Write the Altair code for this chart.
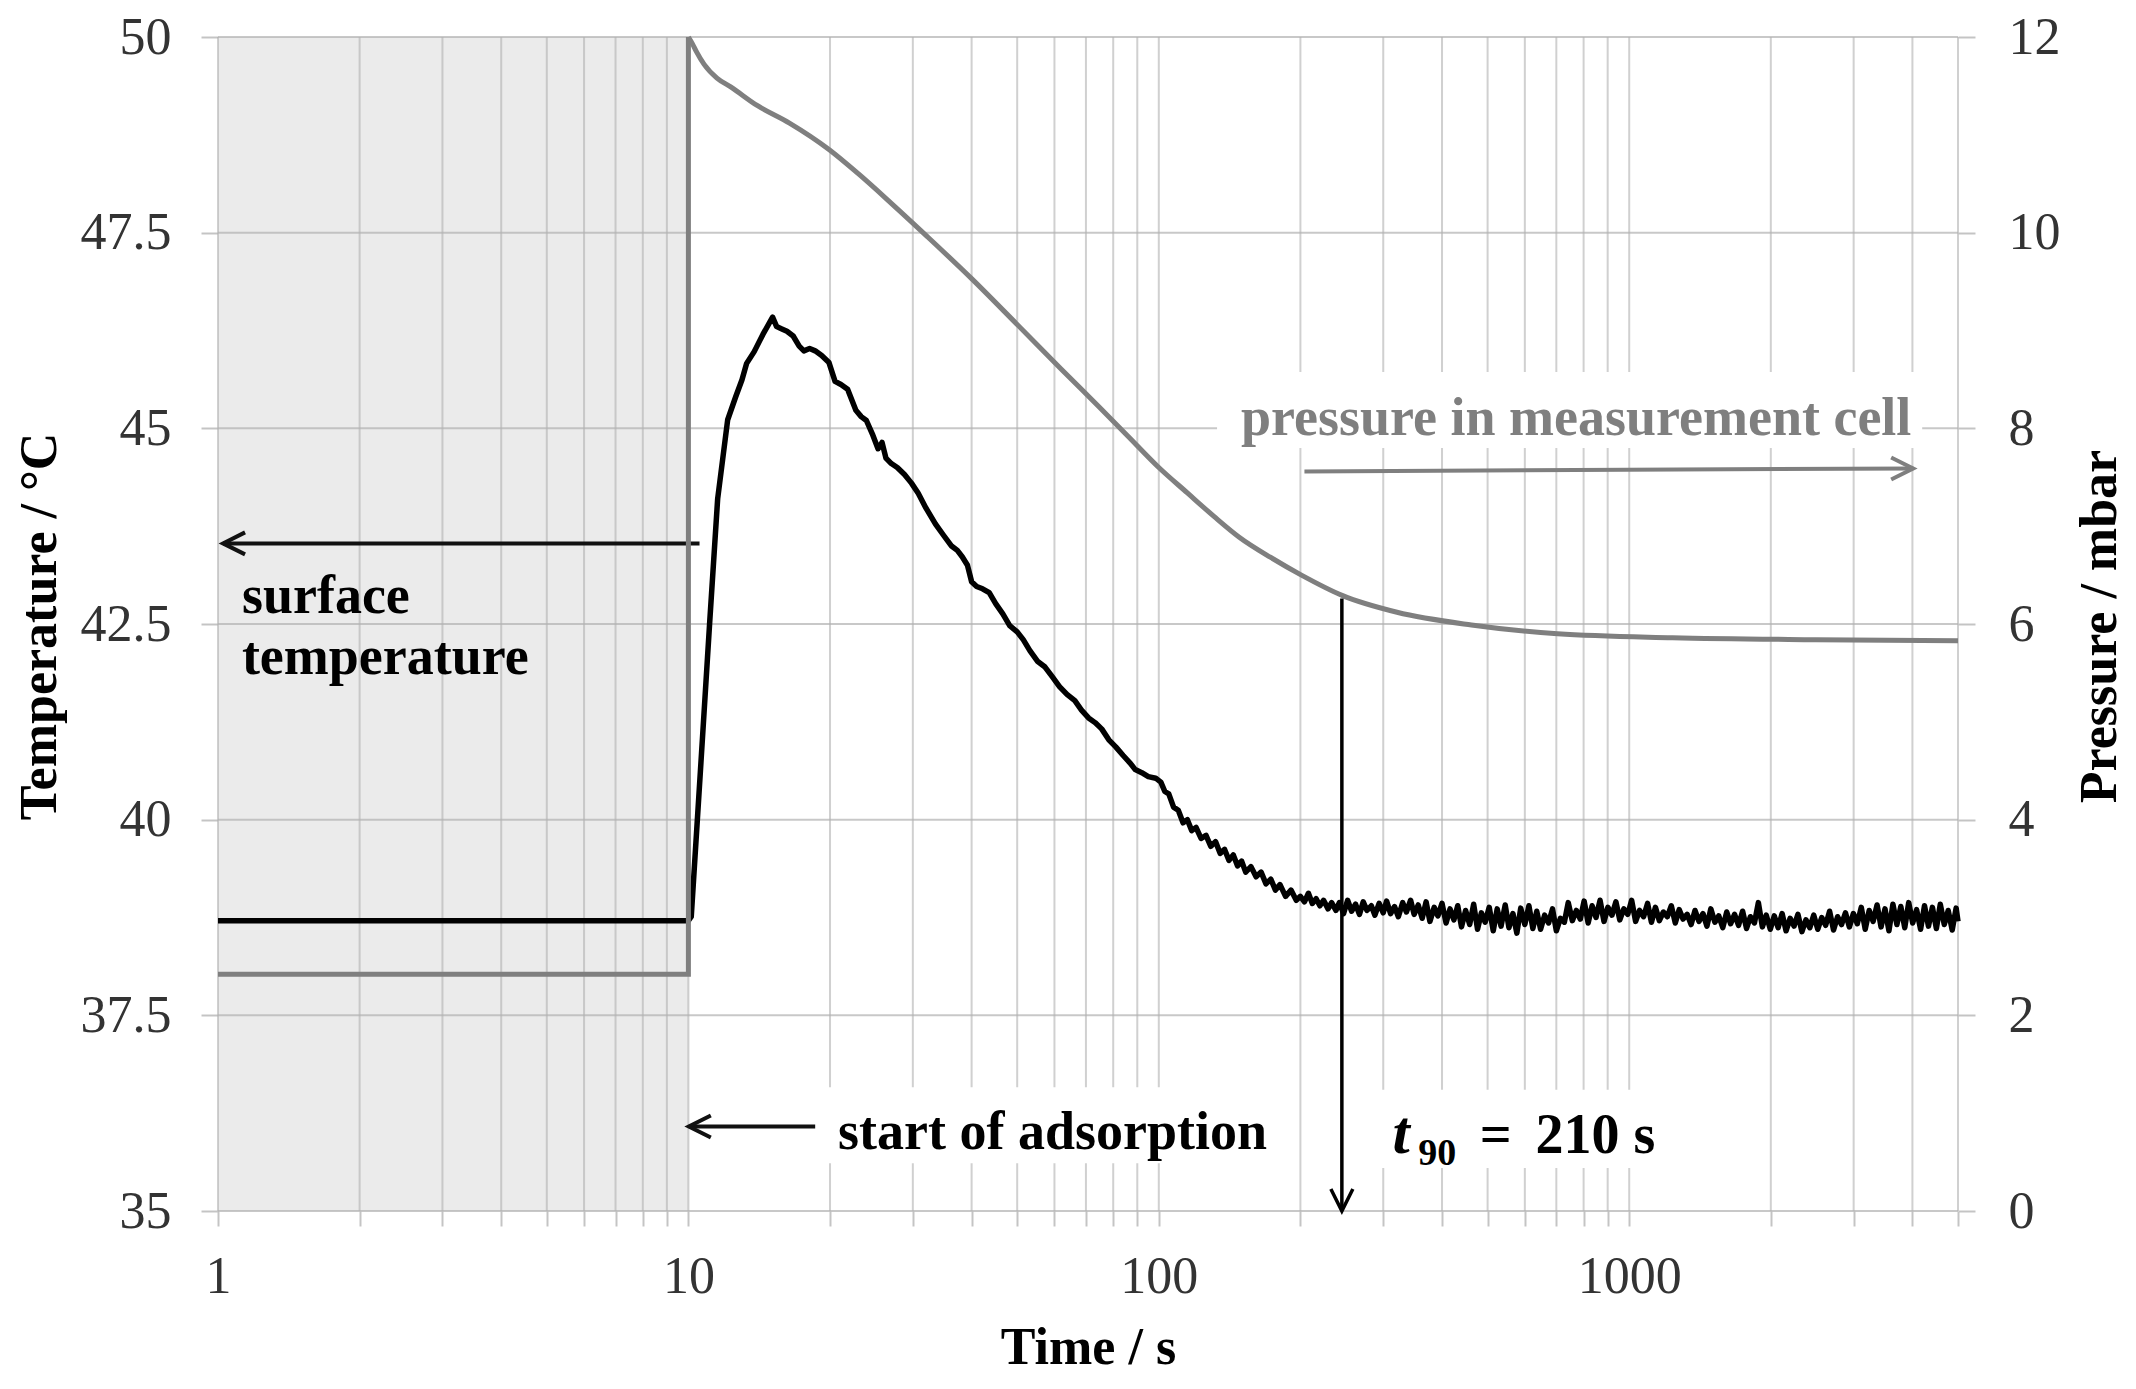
import altair as alt
import pandas as pd

FONT = "Liberation Serif"

# ---------------- surface temperature (black curve) ----------------
temp_t = [1, 10, 10.14, 10.6, 11.09, 11.54, 12.12, 12.6, 13.0, 13.3,
          13.8, 14.4, 15.1, 15.4, 15.8, 16.2, 16.7, 17.2, 17.6, 18.1,
          18.6, 19.2, 19.9, 20.5, 21.1, 21.8, 22.7, 23.3, 23.9, 24.6,
          25.3, 25.8, 26.3, 27.0, 27.8, 28.8, 29.8, 30.8, 32.0, 33.5,
          34.8, 36.2, 37.3, 38.2, 39.2, 40.0, 41.0, 42.2, 43.6, 45.0,
          46.6, 48.2, 50.0, 51.5, 53.2, 55.3, 57.3, 59.3, 61.5, 63.8,
          66.3, 68.5, 70.9, 73.2, 75.6, 78.3, 81.0, 84.0, 87.0, 89.1,
          92.0, 95.0, 98.5, 101, 103, 105, 107.5, 110, 112.6, 115,
          117.5, 120, 123, 126, 129, 132, 135, 138, 141, 144,
          147, 150, 153, 157, 161, 165, 169, 173, 177, 181,
          186, 191, 196]
temp_v = [38.71, 38.71, 38.76, 40.6, 42.49, 44.10, 45.11, 45.40, 45.62, 45.83,
          45.98, 46.20, 46.42, 46.30, 46.27, 46.24, 46.18, 46.05, 45.99, 46.02,
          45.99, 45.93, 45.84, 45.60, 45.56, 45.50, 45.23, 45.15, 45.10, 44.93,
          44.74, 44.82, 44.62, 44.55, 44.50, 44.41, 44.30, 44.17, 43.98, 43.78,
          43.64, 43.50, 43.44, 43.36, 43.25, 43.04, 42.98, 42.95, 42.90, 42.76,
          42.63, 42.48, 42.40, 42.30, 42.16, 42.02, 41.95, 41.83, 41.70, 41.60,
          41.52, 41.40, 41.30, 41.24, 41.16, 41.02, 40.93, 40.82, 40.72, 40.64,
          40.60, 40.55, 40.53, 40.48, 40.36, 40.33, 40.16, 40.12, 39.96, 40.00,
          39.86, 39.90, 39.76, 39.80, 39.66, 39.72, 39.57, 39.62, 39.48, 39.55,
          39.41, 39.47, 39.33, 39.40, 39.27, 39.33, 39.18, 39.24, 39.10, 39.17,
          39.02, 39.10, 38.97]
# noisy plateau after ~200 s
tail_t = [200, 204, 208, 212, 216, 220, 224, 229, 233, 238,
          242, 247, 252, 257, 262, 267, 272, 277, 283, 288,
          294, 300, 305, 311, 317, 323, 330, 336, 343, 349,
          356, 363, 370, 377, 385, 392, 400, 408, 416, 424,
          432, 440, 449, 458, 467, 476, 485, 494, 504, 514,
          524, 534, 545, 555, 566, 577, 588, 600, 612, 624,
          636, 648, 661, 674, 687, 700, 714, 728, 742, 757,
          772, 787, 802, 818, 834, 850, 867, 884, 901, 919,
          937, 955, 974, 993, 1012, 1032, 1052, 1073, 1094, 1115,
          1137, 1159, 1182, 1205, 1229, 1253, 1277, 1302, 1328, 1354,
          1380, 1407, 1435, 1463, 1491, 1521, 1550, 1581, 1612, 1643,
          1675, 1708, 1742, 1776, 1810, 1846, 1882, 1919, 1956, 1995,
          2034, 2073, 2114, 2155, 2198, 2241, 2284, 2329, 2375, 2421,
          2468, 2517, 2566, 2616, 2667, 2719, 2773, 2827, 2882, 2938,
          2996, 3054, 3114, 3175, 3237, 3300, 3365, 3431, 3498, 3566,
          3636, 3707, 3779, 3853, 3928, 4005, 4083, 4163, 4244, 4327,
          4411, 4498, 4585, 4675, 4766, 4860, 4955, 5000]
tail_v = [39.02, 38.95, 39.06, 38.93, 38.99, 38.90, 38.97, 38.86, 38.94, 38.84,
          38.94, 38.80, 38.97, 38.83, 38.92, 38.79, 38.95, 38.84, 38.90, 38.78,
          38.93, 38.81, 38.96, 38.80, 38.89, 38.76, 38.94, 38.82, 38.97, 38.79,
          38.91, 38.74, 38.95, 38.70, 38.88, 38.77, 38.93, 38.68, 38.86, 38.72,
          38.90, 38.63, 38.84, 38.66, 38.92, 38.60, 38.81, 38.69, 38.88, 38.58,
          38.86, 38.64, 38.91, 38.62, 38.80, 38.55, 38.87, 38.66, 38.90, 38.61,
          38.83, 38.60, 38.78, 38.68, 38.86, 38.58, 38.74, 38.69, 38.94, 38.71,
          38.84, 38.73, 38.96, 38.68, 38.90, 38.75, 38.97, 38.70, 38.88, 38.78,
          38.95, 38.72, 38.86, 38.79, 38.97, 38.70, 38.84, 38.76, 38.93, 38.69,
          38.88, 38.71, 38.82, 38.76, 38.90, 38.68, 38.85, 38.73, 38.79, 38.66,
          38.84, 38.70, 38.80, 38.64, 38.86, 38.69, 38.77, 38.62, 38.82, 38.67,
          38.79, 38.65, 38.83, 38.61, 38.76, 38.68, 38.94, 38.63, 38.78, 38.60,
          38.77, 38.62, 38.80, 38.58, 38.74, 38.64, 38.79, 38.57, 38.72, 38.62,
          38.78, 38.60, 38.75, 38.65, 38.83, 38.59, 38.76, 38.66, 38.81, 38.63,
          38.80, 38.67, 38.88, 38.60, 38.84, 38.70, 38.91, 38.63, 38.86, 38.58,
          38.92, 38.66, 38.89, 38.62, 38.94, 38.68, 38.85, 38.60, 38.90, 38.64,
          38.88, 38.61, 38.92, 38.66, 38.84, 38.59, 38.87, 38.70]

# ---------------- pressure in measurement cell (grey curve), mbar ----------------
# before the step (flat) and the step itself
press_step_t = [1, 10, 10]
press_step_v = [2.42, 2.42, 12.0]
# smooth decay after the step
press_decay_t = [10, 10.2, 10.4, 10.8, 11.5, 12.3, 14.0, 16.4, 19.9, 23.0,
                 27.0, 32.2, 40.0, 49.8, 61.9, 74.6, 86.0, 100, 115, 131,
                 148, 173, 201, 246, 321, 462, 704, 1236, 2494, 5000]
press_decay_v = [12.0, 11.93, 11.85, 11.72, 11.58, 11.49, 11.30, 11.12, 10.85, 10.60,
                 10.30, 9.96, 9.53, 9.07, 8.61, 8.22, 7.92, 7.60, 7.34, 7.10,
                 6.89, 6.68, 6.50, 6.29, 6.12, 5.99, 5.90, 5.86, 5.84, 5.83]

# ---------------- axes ----------------
grid_time = [1, 2, 3, 4, 5, 6, 7, 8, 9, 10, 20, 30, 40, 50, 60, 70, 80, 90,
             100, 200, 300, 400, 500, 600, 700, 800, 900, 1000, 2000, 3000, 4000, 5000]
time_labels = [1, 10, 100, 1000]
temp_ticks = [35, 37.5, 40, 42.5, 45, 47.5, 50]
press_ticks = [0, 2, 4, 6, 8, 10, 12]

# ---------------- annotations (data units) ----------------
shade_t = [1, 10]
box_t0 = [133, 10.5, 293]
box_t1 = [4196, 180, 1403]
box_T0 = [44.75, 35.61, 35.55]
box_T1 = [45.72, 36.58, 36.55]

left_arrow_t0 = [10.56, 18.6]
left_arrow_t1 = [1.025, 10.02]
left_arrow_T = [43.53, 36.08]

press_arrow_t = [204, 4015]
press_arrow_p = [7.56, 7.59]
t90_arrow_t = 245
t90_arrow_p = [6.26, 0]

black_text = ["surface", "temperature", "start of adsorption"]
black_text_t = [1.124, 1.124, 20.8]
black_text_T = [42.64, 41.86, 35.79]
grey_text = ["pressure in measurement cell"]
grey_text_t = [149.5]
grey_text_T = [44.91]
t90_parts = ["t", "90", "=", "210 s"]
t90_parts_t = [314, 356, 481, 632.4]
t90_parts_T = [35.74, 35.59, 35.74, 35.74]

W, H = 1740, 1174
GRID = "#b0b0b0"
LABEL_COLOR = "#333333"
GREY = "#7f7f7f"

temp_df = pd.DataFrame({"t": temp_t + tail_t, "T": temp_v + tail_v})
temp_df["i"] = range(len(temp_df))
step_df = pd.DataFrame({"t": press_step_t, "p": press_step_v})
step_df["i"] = range(len(step_df))
decay_df = pd.DataFrame({"t": press_decay_t, "p": press_decay_v})
decay_df["i"] = range(len(decay_df))

label_test = " || ".join(f"datum.value == {v}" for v in time_labels)
x_scale = alt.Scale(type="log", domain=[1, 5000], nice=False)
x_axis = alt.Axis(values=grid_time, labelExpr=f"({label_test}) ? format(datum.value, 'd') : ''",
                  title="Time / s", grid=False, domain=False, tickSize=15, tickColor="#c4c4c4",
                  tickWidth=2, labelFont=FONT, labelFontSize=52, labelColor=LABEL_COLOR,
                  labelPadding=66, labelBaseline="alphabetic", labelFlush=False, labelOverlap=False,
                  titleFont=FONT, titleFontSize=52, titleFontWeight="bold", titleColor="black",
                  titleX=W / 2, titleY=152, titleBaseline="alphabetic", titleAlign="center")

T_scale = alt.Scale(domain=[35, 50], nice=False, zero=False)
T_axis = alt.Axis(values=temp_ticks, labelExpr="'' + datum.value", orient="left", grid=False,
                  domain=False, tickSize=17, tickColor="#c4c4c4", tickWidth=2,
                  labelFont=FONT, labelFontSize=52, labelColor=LABEL_COLOR, labelPadding=30,
                  title="Temperature / °C", titleFont=FONT, titleFontSize=52, titleFontWeight="bold",
                  titleColor="black", titleAngle=270, titleX=-163, titleY=589,
                  titleBaseline="alphabetic", titleAlign="center")

p_scale = alt.Scale(domain=[0, 12], nice=False, zero=False)
p_axis = alt.Axis(values=press_ticks, orient="right", grid=False, domain=False, tickSize=17,
                  tickColor="#c4c4c4", tickWidth=2, labelFont=FONT, labelFontSize=52,
                  labelColor=LABEL_COLOR, labelPadding=33,
                  title="Pressure / mbar", titleFont=FONT, titleFontSize=52, titleFontWeight="bold",
                  titleColor="black", titleAngle=270, titleX=157, titleY=589,
                  titleBaseline="alphabetic", titleAlign="center")


def X(f):
    return alt.X(f"{f}:Q", scale=x_scale, axis=x_axis)


def YT(f):
    return alt.Y(f"{f}:Q", scale=T_scale, axis=T_axis)


def YP(f):
    return alt.Y(f"{f}:Q", scale=p_scale, axis=p_axis)


LEFT = "M 1 -0.5 L 0 0 L 1 0.5"
RIGHT = "M -1 -0.5 L 0 0 L -1 0.5"
DOWN = "M -0.5 -1 L 0 0 L 0.5 -1"

shade = alt.Chart(pd.DataFrame({"t0": [shade_t[0]], "t1": [shade_t[1]],
                                "a": [temp_ticks[0]], "b": [temp_ticks[-1]]})).mark_rect(
    color="#ebebeb").encode(x=X("t0"), x2="t1", y=YT("a"), y2="b")

vgrid = alt.Chart(pd.DataFrame({"t": grid_time})).mark_rule(
    color=GRID, opacity=0.6, strokeWidth=2).encode(x=X("t"))
hgrid = alt.Chart(pd.DataFrame({"v": temp_ticks})).mark_rule(
    color=GRID, opacity=0.7, strokeWidth=2).encode(y=YT("v"))

boxes = alt.Chart(pd.DataFrame({"t0": box_t0, "t1": box_t1, "a": box_T0, "b": box_T1})).mark_rect(
    color="white").encode(x=X("t0"), x2="t1", y=YT("a"), y2="b")

temp_line = alt.Chart(temp_df).mark_line(color="black", strokeWidth=5.5, strokeJoin="round").encode(
    x=X("t"), y=YT("T"), order="i:Q")

left_arrows = alt.Chart(pd.DataFrame({"t0": left_arrow_t0, "t1": left_arrow_t1, "v": left_arrow_T}))
left_shafts = left_arrows.mark_rule(color="#111111", strokeWidth=4).encode(x=X("t0"), x2="t1", y=YT("v"))
left_heads = left_arrows.mark_point(shape=LEFT, size=1936, filled=False, color="#111111",
                                    strokeWidth=4, opacity=1).encode(x=X("t1"), y=YT("v"))

btext = alt.Chart(pd.DataFrame({"t": black_text_t, "v": black_text_T, "s": black_text})).mark_text(
    align="left", baseline="alphabetic", font=FONT, fontSize=54, fontWeight="bold",
    color="black").encode(x=X("t"), y=YT("v"), text="s:N")
gtext = alt.Chart(pd.DataFrame({"t": grey_text_t, "v": grey_text_T, "s": grey_text})).mark_text(
    align="left", baseline="alphabetic", font=FONT, fontSize=54, fontWeight="bold",
    color=GREY).encode(x=X("t"), y=YT("v"), text="s:N")

t90_df = pd.DataFrame({"t": t90_parts_t, "v": t90_parts_T, "s": t90_parts, "k": range(4)})
t90_base = alt.Chart(t90_df)
t90_t = t90_base.transform_filter("datum.k == 0").mark_text(
    align="left", baseline="alphabetic", font=FONT, fontSize=62, fontWeight="bold",
    fontStyle="italic", color="black").encode(x=X("t"), y=YT("v"), text="s:N")
t90_sub = t90_base.transform_filter("datum.k == 1").mark_text(
    align="left", baseline="alphabetic", font=FONT, fontSize=38, fontWeight="bold",
    color="black").encode(x=X("t"), y=YT("v"), text="s:N")
t90_rest = t90_base.transform_filter("datum.k >= 2").mark_text(
    align="left", baseline="alphabetic", font=FONT, fontSize=56, fontWeight="bold",
    color="black").encode(x=X("t"), y=YT("v"), text="s:N")

temp_layer = alt.layer(shade, vgrid, hgrid, boxes, temp_line, left_shafts, left_heads,
                       btext, gtext, t90_t, t90_sub, t90_rest)

step_line = alt.Chart(step_df).mark_line(color=GREY, strokeWidth=5).encode(
    x=X("t"), y=YP("p"), order="i:Q")
decay_line = alt.Chart(decay_df).mark_line(color=GREY, strokeWidth=5, interpolate="monotone").encode(
    x=X("t"), y=YP("p"), order="i:Q")
parrow = alt.Chart(pd.DataFrame({"t0": [press_arrow_t[0]], "t1": [press_arrow_t[1]],
                                 "a": [press_arrow_p[0]], "b": [press_arrow_p[1]]}))
parrow_shaft = parrow.mark_rule(color=GREY, strokeWidth=4).encode(x=X("t0"), x2="t1", y=YP("a"), y2="b")
parrow_head = parrow.mark_point(shape=RIGHT, size=1936, filled=False, color=GREY, strokeWidth=4,
                                opacity=1).encode(x=X("t1"), y=YP("b"))
tarrow = alt.Chart(pd.DataFrame({"t": [t90_arrow_t], "a": [t90_arrow_p[0]], "b": [t90_arrow_p[1]]}))
tarrow_shaft = tarrow.mark_rule(color="black", strokeWidth=3.5).encode(x=X("t"), y=YP("a"), y2="b")
tarrow_head = tarrow.mark_point(shape=DOWN, size=1936, filled=False, color="black", strokeWidth=3.5,
                                opacity=1).encode(x=X("t"), y=YP("b"))

press_layer = alt.layer(step_line, decay_line, parrow_shaft, parrow_head, tarrow_shaft, tarrow_head)

chart = alt.layer(temp_layer, press_layer).resolve_scale(y="independent").properties(
    width=W, height=H,
    autosize=alt.AutoSizeParams(type="none"),
    padding={"left": 210, "top": 29, "right": 170, "bottom": 170},
).configure_view(strokeWidth=0)

chart.save("out.html", embed_options={"renderer": "svg", "actions": False})
